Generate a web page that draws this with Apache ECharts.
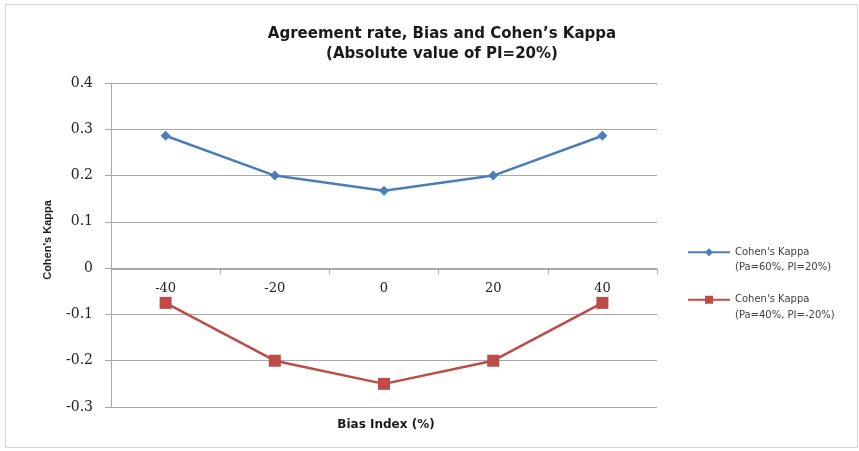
<!DOCTYPE html>
<html>
<head>
<meta charset="utf-8">
<script src="https://cdn.jsdelivr.net/npm/echarts@6/dist/echarts.min.js"></script>
<style>
  html, body { margin: 0; padding: 0; background: #fff; }
  #main { width: 859px; height: 451px; }
</style>
</head>
<body>
<div id="main"></div>
<script>
// 数据
var biasIndex = ['-40', '-20', '0', '20', '40'];
var kappaPa60 = [0.286, 0.2, 0.167, 0.2, 0.286];
var kappaPa40 = [-0.075, -0.2, -0.25, -0.2, -0.075];
var seriesNames = ["Cohen's Kappa\n(Pa=60%, PI=20%)", "Cohen's Kappa\n(Pa=40%, PI=-20%)"];
var yTicks = { min: -0.3, max: 0.4, step: 0.1 };

var gridColor = '#a8a8a8';
var myChart = echarts.init(document.getElementById('main'));

var option = {
    backgroundColor: '#fff',
    animation: false,
    graphic: [{
        type: 'rect',
        shape: { x: 5.5, y: 4.5, width: 852, height: 443 },
        style: { fill: 'none', stroke: '#d4d4d4', lineWidth: 1 },
        silent: true
    }],
    title: [{
        text: 'Agreement rate, Bias and Cohen\u2019s Kappa\n(Absolute value of PI=20%)',
        left: 437,
        top: 19,
        textAlign: 'center',
        textStyle: {
            fontFamily: 'DejaVu Sans',
            fontWeight: 'bold',
            fontSize: 15,
            lineHeight: 20,
            color: '#1a1a1a'
        }
    }, {
        // x轴名称放在底部（轴线在0处）
        text: 'Bias Index (%)',
        left: 381,
        top: 414,
        textAlign: 'center',
        textStyle: {
            fontFamily: 'DejaVu Sans',
            fontWeight: 'bold',
            fontSize: 12,
            color: '#1a1a1a'
        }
    }],
    legend: {
        orient: 'vertical',
        left: 687,
        top: 229,
        padding: 0,
        itemWidth: 42,
        itemHeight: 10,
        itemGap: 1,
        formatter: function (name) { return ' \n' + name; },
        textStyle: {
            fontFamily: 'DejaVu Sans',
            fontSize: 10,
            lineHeight: 15.5,
            color: '#404040'
        }
    },
    grid: { left: 111, right: 202, top: 83, bottom: 44, containLabel: false },
    xAxis: {
        type: 'category',
        data: biasIndex,
        // 轴线移到 y=0 处
        offset: -138,
        axisLine: { onZero: false, lineStyle: { color: gridColor, width: 1 } },
        axisTick: { show: true, length: 5, lineStyle: { color: gridColor } },
        axisLabel: {
            margin: 13,
            fontFamily: 'DejaVu Serif',
            fontSize: 13,
            color: '#222'
        }
    },
    yAxis: {
        type: 'value',
        min: yTicks.min,
        max: yTicks.max,
        interval: yTicks.step,
        name: "Cohen's Kappa",
        nameLocation: 'middle',
        nameGap: 58,
        nameTextStyle: {
            fontFamily: 'Liberation Sans',
            fontWeight: 'bold',
            fontSize: 11,
            color: '#1a1a1a',
            padding: [0, 0, 0, 10]
        },
        axisLine: { show: true, lineStyle: { color: gridColor, width: 1 } },
        axisTick: { show: true, length: 6, lineStyle: { color: gridColor } },
        splitLine: { show: true, lineStyle: { color: gridColor, width: 1 } },
        axisLabel: {
            margin: 18,
            fontFamily: 'DejaVu Serif',
            fontSize: 14,
            color: '#222',
            formatter: function (v) { return String(Math.round(v * 10) / 10); }
        }
    },
    series: [{
        name: seriesNames[0],
        type: 'line',
        data: kappaPa60,
        symbol: 'diamond',
        symbolSize: 10,
        lineStyle: { color: '#4a7ebb', width: 2.5 },
        itemStyle: { color: '#4a7ebb' }
    }, {
        name: seriesNames[1],
        type: 'line',
        data: kappaPa40,
        symbol: 'rect',
        symbolSize: 12,
        lineStyle: { color: '#be4b48', width: 2.5 },
        itemStyle: { color: '#be4b48' }
    }]
};

myChart.setOption(option);
</script>
</body>
</html>
